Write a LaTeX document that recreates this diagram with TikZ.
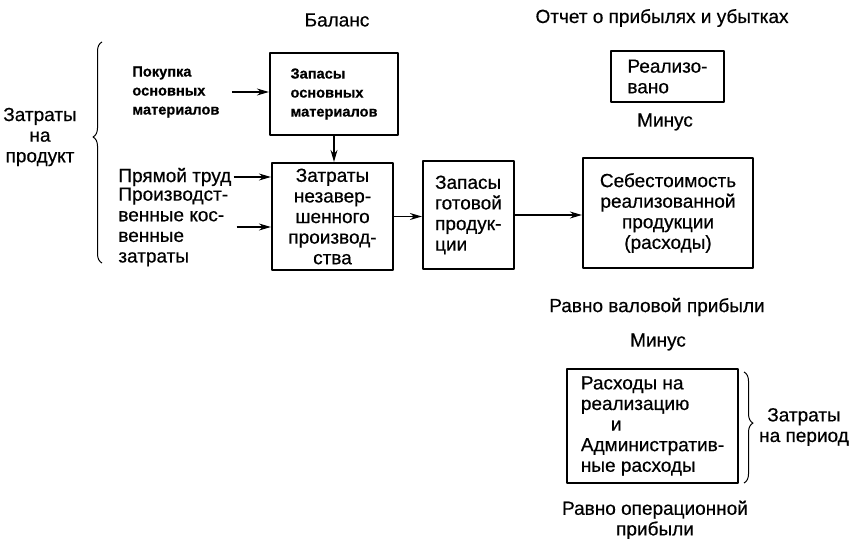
\documentclass[tikz,border=0pt]{standalone}
\usepackage{fontspec}
\setmainfont{Liberation Sans}[FakeBold=0.5]
\usetikzlibrary{arrows.meta,decorations.pathreplacing}

\begin{document}
\begin{tikzpicture}[
    x=0.5pt,
    y=-0.5pt,
    line join=round,
    txt/.style={inner sep=0pt, align=center, font=\fontsize{9.5}{10.3}\selectfont},
    small/.style={inner sep=0pt, align=left, font=\bfseries\fontsize{7.3}{9.5}\selectfont},
    box/.style={draw, line width=1.1pt, inner sep=0pt},
    arr/.style={-{Stealth[length=6pt,width=3.5pt]}, line width=0.6pt},
    brc/.style={decorate, decoration={brace, amplitude=4.5pt}, line width=0.5pt}
]
    \useasboundingbox (0,0) rectangle (849,539);

    % заголовки
    \node[txt] (balance) at (337,20) {Баланс};
    \node[txt] (pnl) at (662,18) {Отчет о прибылях и убытках};

    % затраты на продукт
    \node[txt] (prodcost) at (40,137) {Затраты\\на\\продукт};
    \draw[brc, decoration={aspect=0.57}] (102,263) -- (102,42);

    % входы
    \node[small, anchor=west] (purchase) at (132,92) {Покупка\\основных\\материалов};
    \node[txt, align=left, anchor=west] (labor) at (118,177) {Прямой труд};
    \node[txt, align=left, anchor=west] (overhead) at (118,227) {Производст-\\венные кос-\\венные\\затраты};

    % баланс
    \node[box, small, minimum width=64pt, minimum height=41pt] (rawinv) at (334,94) {Запасы\\основных\\материалов};
    \node[box, txt, minimum width=60.5pt, minimum height=53.5pt] (wip) at (332.5,216.5) {Затраты\\незавер-\\шенного\\производ-\\ства};
    \node[box, txt, align=left, minimum width=45.5pt, minimum height=54pt] (fginv) at (468.5,215) {Запасы\\готовой\\продук-\\ции};

    % отчет о прибылях
    \node[box, txt, align=left, minimum width=56.5pt, minimum height=25.5pt] (sold) at (667.5,76.5) {Реализо-\\вано};
    \node[txt] (minus1) at (665,122) {Минус};
    \node[box, txt, minimum width=85pt, minimum height=55pt] (cogs) at (668,213) {Себестоимость\\реализованной\\продукции\\(расходы)};
    \node[txt] (gross) at (657,307) {Равно валовой прибыли};
    \node[txt] (minus2) at (658,342) {Минус};
    \node[box, txt, align=left, minimum width=85.5pt, minimum height=57pt] (opex) at (652.5,426) {Расходы на\\реализацию\\\hspace*{15pt}и\\Административ-\\ные расходы};
    \node[txt] (opprofit) at (655,520) {Равно операционной\\прибыли};

    % затраты на период
    \draw[brc, decoration={aspect=0.46}] (744,372) -- (744,483);
    \node[txt] (period) at (804,427) {Затраты\\на период};

    % стрелки
    \draw[arr, shorten <=6pt] (purchase.east) -- (purchase.east -| rawinv.west);
    \draw[arr] (rawinv.south) -- (rawinv.south |- wip.north);
    \draw[arr, shorten <=1pt] (labor.east) -- (labor.east -| wip.west);
    \draw[arr, shorten <=4pt] (overhead.east) -- (overhead.east -| wip.west);
    \draw[arr] (wip.east) -- (wip.east -| fginv.west);
    \draw[arr] (fginv.east) -- (fginv.east -| cogs.west);

\end{tikzpicture}
\end{document}
